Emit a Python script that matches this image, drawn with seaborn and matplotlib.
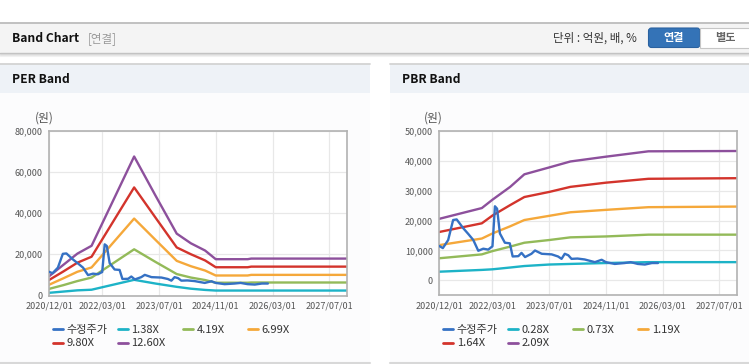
import matplotlib
matplotlib.use('Agg')
import pandas as pd
import matplotlib.pyplot as plt
import seaborn as sns
from matplotlib.patches import Rectangle, FancyBboxPatch
from matplotlib.lines import Line2D
from matplotlib.legend import Legend

# x 축: 2020/12/01 기준 경과 개월 수
TICK_MONTHS = [0, 15, 31, 47, 63, 79]
TICK_LABELS = ['2020/12/01', '2022/03/01', '2023/07/01', '2024/11/01', '2026/03/01', '2027/07/01']

# 수정주가 (원)
PRICE_MONTHS = [0, 1, 2.5, 3.9, 4.9, 6.8, 8.2, 9.6, 11, 12.4, 13.8, 15, 15.7, 16.3, 17.1,
                18.5, 19.9, 20.7, 22.3, 23.2, 24.2, 26, 27, 28.9, 31.7, 33.5, 34.5, 35.4,
                36.4, 37.3, 39, 41, 43.9, 45.8, 47, 49.5, 52.3, 54, 56, 58, 60, 61.7]
PRICE = [11500, 10800, 13500, 20200, 20400, 17400, 15500, 13500, 9900, 10600, 10300, 11400,
         24800, 24000, 15700, 12600, 12400, 8000, 8100, 9200, 7800, 8900, 10000, 8900, 8700,
         8000, 7200, 8900, 8400, 7200, 7300, 7000, 6100, 6900, 6100, 5500, 5800, 6100, 5500,
         5300, 5800, 5800]

# PER 밴드
PER_MONTHS = [0, 4, 8, 12, 24, 30, 36, 40, 44, 47, 56, 57, 84]
PER_138 = [1300, 1900, 2500, 2800, 7600, 5800, 4200, 3300, 2700, 2400, 2400, 2400, 2400]
PER_419 = [3200, 5000, 7000, 8700, 22400, 16300, 10400, 8700, 7500, 6200, 6200, 6300, 6300]
PER_699 = [5200, 8300, 11500, 13600, 37300, 27000, 16800, 14200, 12100, 9700, 9700, 10000, 10000]
PER_980 = [7500, 11600, 15900, 18800, 52400, 37800, 23300, 20000, 17000, 13700, 13700, 14000, 14000]
PER_1260 = [9300, 14800, 20300, 24100, 67400, 48500, 30000, 25300, 21800, 17600, 17600, 17900, 17900]
PER_LABELS = ['1.38X', '4.19X', '6.99X', '9.80X', '12.60X']
PER_YTICKS = [0, 20000, 40000, 60000, 80000]

# PBR 밴드
PBR_MONTHS = [0, 12, 15, 20, 24, 31, 37, 47, 59, 84]
PBR_028 = [2900, 3500, 3700, 4300, 4800, 5300, 5500, 5800, 6100, 6100]
PBR_073 = [7400, 8700, 9800, 11300, 12600, 13500, 14400, 14700, 15300, 15300]
PBR_119 = [11800, 14000, 15700, 18100, 20200, 21600, 22800, 23600, 24500, 24700]
PBR_164 = [16200, 19100, 21700, 25200, 27900, 29600, 31300, 32700, 34000, 34200]
PBR_209 = [20600, 24200, 27000, 31300, 35500, 37800, 39800, 41400, 43200, 43300]
PBR_LABELS = ['0.28X', '0.73X', '1.19X', '1.64X', '2.09X']
PBR_YTICKS = [0, 10000, 20000, 30000, 40000, 50000]

PRICE_LABEL = '수정주가'
PRICE_COLOR = '#3571c4'
BAND_COLORS = ['#1db3c7', '#93ba59', '#f5a83a', '#d3342c', '#8d509c']

W, H = 749, 364


def px_box(left, top, right, bottom):
    """픽셀 좌표 -> figure 비율"""
    return [left / W, 1 - bottom / H, (right - left) / W, (bottom - top) / H]


def band_frame(months, bands, labels):
    parts = [pd.DataFrame({'month': months, 'value': v, 'series': lab})
             for v, lab in zip(bands, labels)]
    return pd.concat(parts, ignore_index=True)


def draw_band(fig, bg, box, months, bands, labels, ylim, yticks):
    ax = fig.add_axes(px_box(*box))
    ax.set_facecolor('white')
    df = band_frame(months, bands, labels)
    sns.lineplot(data=df, x='month', y='value', hue='series', hue_order=labels,
                 palette=BAND_COLORS, estimator=None, lw=1.7, legend=False, ax=ax)
    price = pd.DataFrame({'month': PRICE_MONTHS, 'value': PRICE})
    sns.lineplot(data=price, x='month', y='value', color=PRICE_COLOR, estimator=None,
                 lw=1.7, ax=ax, zorder=5)
    ax.set_xlim(0, 84)
    ax.set_ylim(*ylim)
    ax.set_xticks(TICK_MONTHS)
    ax.set_xticklabels(TICK_LABELS)
    ax.set_yticks(yticks)
    ax.set_yticklabels([f'{v:,}' for v in yticks])
    ax.set_xlabel('')
    ax.set_ylabel('')
    ax.grid(True, color='#e8e8e8', lw=0.9)
    ax.set_axisbelow(True)
    for s in ax.spines.values():
        s.set_color('#b2b2b2')
        s.set_linewidth(1.2)
    ax.tick_params(labelsize=6.5, labelcolor='#555555', color='#aaaaaa',
                   length=3, width=0.8, pad=1.5)

    # 범례: 65px 간격 고정 칸
    entries = [(PRICE_LABEL, PRICE_COLOR)] + list(zip(labels, BAND_COLORS))
    for i, (lab, col) in enumerate(entries):
        x = box[0] + 3.5 + (i % 4) * 65
        y = 330 + (i // 4) * 13.5
        lg = Legend(bg, [Line2D([], [], color=col, lw=2)], [lab], loc='center left',
                    bbox_to_anchor=(x, y), bbox_transform=bg.transData,
                    frameon=False, fontsize=8, handlelength=0.95, handletextpad=0.3,
                    borderpad=0, borderaxespad=0, labelcolor='#333333')
        bg.add_artist(lg)
    return ax


def draw_panel(bg, left, right, title):
    bg.add_patch(Rectangle((left, 64), right - left, 298.7, fc='#fcfcfd', ec='none'))
    bg.add_patch(Rectangle((left, 64), right - left, 28.7, fc='#eef2f7', ec='none'))
    bg.plot([left, right], [64, 64], color='#d3d3d3', lw=1.3)
    bg.plot([left, right], [362.7, 362.7], color='#d8d8d8', lw=1.5)
    bg.text(left + 11.7, 79.5, title, fontsize=8.7, fontweight='bold', color='#111111',
            va='center', ha='left')


sns.set_style('white')
plt.rcParams['font.family'] = ['Noto Sans CJK KR', 'DejaVu Sans']
plt.rcParams['axes.unicode_minus'] = False

fig = plt.figure(figsize=(W / 100, H / 100), dpi=100)
fig.patch.set_facecolor('white')

bg = fig.add_axes([0, 0, 1, 1], zorder=0)
bg.set_xlim(0, W)
bg.set_ylim(H, 0)
bg.axis('off')

# 상단 헤더
bg.add_patch(Rectangle((0, 22.5), W, 30, fc='#f4f4f4', ec='none'))
bg.plot([0, W], [22.5, 22.5], color='#bcbcbc', lw=1.3)
bg.plot([0, W], [52.5, 52.5], color='#c2c2c2', lw=1)
for yy, cc in [(53.6, '#d8d8d8'), (54.6, '#e6e6e6'), (55.6, '#f1f1f1')]:
    bg.plot([0, W], [yy, yy], color=cc, lw=0.8)
bg.text(11.7, 38.3, 'Band Chart', fontsize=8.7, fontweight='bold', color='#111111', va='center')
bg.text(88, 38.3, '[연결]', fontsize=8.3, color='#999999', va='center')
bg.text(553, 38.3, '단위 : 억원, 배, %', fontsize=8.3, color='#333333', va='center')
bg.add_patch(FancyBboxPatch((648.5, 28), 51.5, 19.5, boxstyle='round,pad=0,rounding_size=3',
                            fc='#3473b7', ec='#2b62a0', lw=0.8))
bg.add_patch(Rectangle((700, 28), 55, 19.5, fc='white', ec='#c6c6c6', lw=0.8))
bg.text(674, 38, '연결', fontsize=8, fontweight='bold', color='white', ha='center', va='center')
bg.text(725, 38, '별도', fontsize=8, fontweight='bold', color='#666666', ha='center', va='center')

# 패널
draw_panel(bg, 0, 370, 'PER Band')
draw_panel(bg, 390, W, 'PBR Band')
bg.text(44, 118, '(원)', fontsize=8.5, color='#555555', ha='center', va='center')
bg.text(433, 118, '(원)', fontsize=8.5, color='#555555', ha='center', va='center')

draw_band(fig, bg, (49, 130.5, 347, 295.5), PER_MONTHS,
          [PER_138, PER_419, PER_699, PER_980, PER_1260], PER_LABELS,
          (0, 80000), PER_YTICKS)
draw_band(fig, bg, (439.3, 131, 737, 295.3), PBR_MONTHS,
          [PBR_028, PBR_073, PBR_119, PBR_164, PBR_209], PBR_LABELS,
          (-5000, 50000), PBR_YTICKS)

fig.savefig('out.png', dpi=100, facecolor=fig.get_facecolor())
